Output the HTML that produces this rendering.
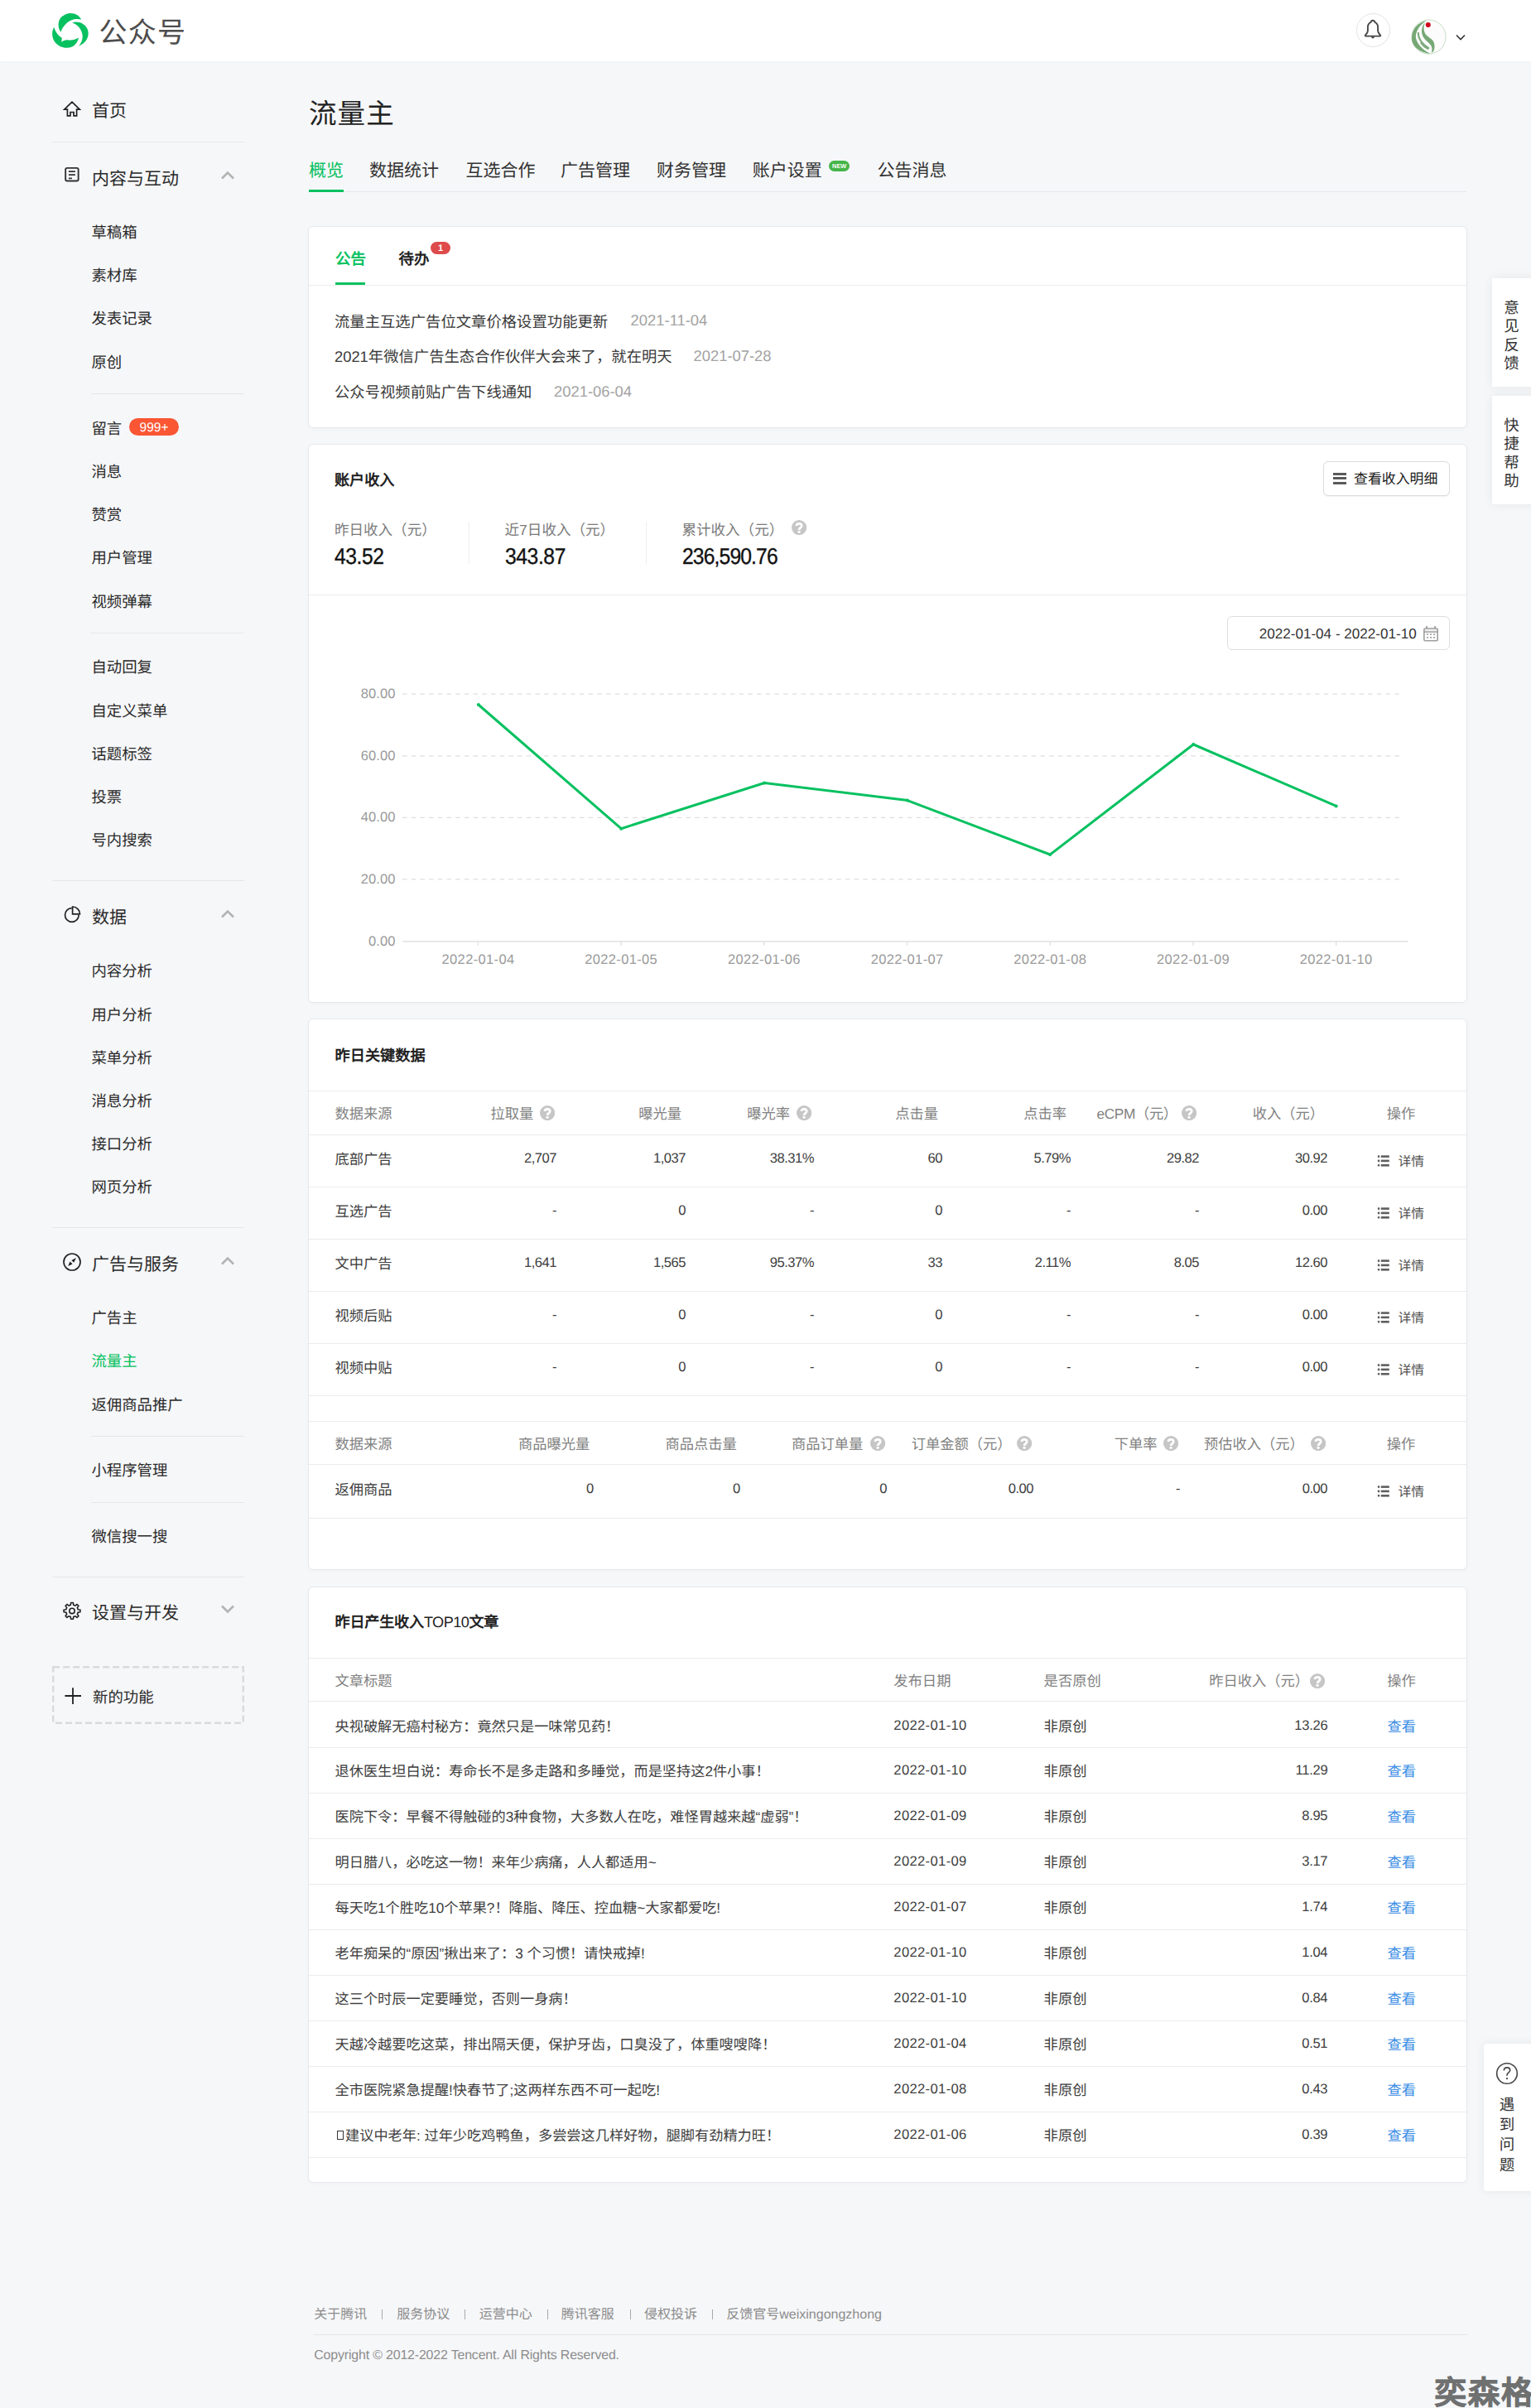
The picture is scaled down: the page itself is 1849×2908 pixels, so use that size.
<!DOCTYPE html>
<html lang="zh-CN"><head><meta charset="utf-8"><title>公众号</title>
<style>
html,body{margin:0;padding:0;}
body{width:1849px;height:2908px;position:relative;overflow:hidden;background:#f6f7f9;font-family:"Liberation Sans",sans-serif;}
.t{position:absolute;white-space:nowrap;text-rendering:geometricPrecision;}
.b{position:absolute;}
</style></head><body>
<div class="b" style="left:0.00px;top:0.00px;width:1849.00px;height:74.00px;background:#fff;box-shadow:0 1px 3px rgba(0,0,0,0.025)"></div><svg class="b" style="left:58px;top:12px" width="54" height="50" viewBox="58 12 54 50"><g fill="#07c160">
<path d="M73.5,38.8 C69,33 69,22 78,18 C86,13.5 95,17 98.2,23.6 C92,22 84,24 80,28.5 C76.5,32 74.5,35 73.5,38.8 Z"/>
<path d="M87.3,27.2 C94,25 103,28 106,36 C108.5,44 104,52 95,55.7 C99,51 100,47 99.5,42 C98.5,35 94,30 87.3,27.2 Z"/>
<path d="M65.4,32.8 C62,38 62.5,46 66.5,51 C71,57 80,59.5 87,56.5 C91.5,54.5 94,50 95,45.5 C91,48 86,49 82,48.3 C79,47.8 77,48.5 74.2,50.8 C74.5,48.5 75,47 74.6,45.5 C70,43 66.5,38 65.4,32.8 Z"/>
</g></svg><div class="t" style="top:23.02px;font-size:34px;line-height:34px;color:#4d4d4d;letter-spacing:1.3px;left:119.50px;">公众号</div><div class="b" style="left:1637.50px;top:16.30px;width:41.00px;height:41.00px;border:1px solid #e3e3e3;border-radius:50%;box-sizing:border-box;background:#fff"></div><svg class="b" style="left:1642px;top:20px" width="32" height="32" viewBox="0 0 32 32"><path d="M16,4.8 C14.6,4.8 13.8,5.8 13.5,6.9 C11.3,7.9 9.9,9.8 9.9,12.8 L9.9,17.2 C9.9,19.4 8.4,21 6.9,22.7 C6.5,23.2 6.8,23.6 7.4,23.6 L24.6,23.6 C25.2,23.6 25.5,23.2 25.1,22.7 C23.6,21 22.1,19.4 22.1,17.2 L22.1,12.8 C22.1,9.8 20.7,7.9 18.5,6.9 C18.2,5.8 17.4,4.8 16,4.8 Z" fill="none" stroke="#474747" stroke-width="1.9" stroke-linejoin="round"/><path d="M14,24.2 L18,24.2 C18,25.6 17,26.4 16,26.4 C15,26.4 14,25.6 14,24.2 Z" fill="#474747"/></svg><svg class="b" style="left:1700px;top:20px" width="50" height="50" viewBox="0 0 50 50"><circle cx="25.5" cy="24.6" r="20.6" fill="#fbfcfb" stroke="#b9d6b9" stroke-width="0.8"/>
<path d="M22.9,4.9 C12,7 5,15 5,26 C5,36 15,44 27.8,44.8 C21,42 12,35 10,26 C9,19 14,10 22.9,4.9 Z" fill="#76a876"/>
<path d="M20.9,7.5 C19.5,11 19,15 20.5,19 C22,23 26,25 29,27.5 C32,30 33.5,35 32,40 C31.5,42 30,43.5 28.8,43.8 C29.5,41 30,38.5 28.5,35.5 C27,32.5 23,30 20.5,27 C17.5,23.5 16.5,19 17.2,15 C17.8,12 18.8,9.5 20.9,7.5 Z" fill="#76a876"/>
<path d="M12.8,19 C12.5,27 17,33 26,38.5" fill="none" stroke="#7aa87a" stroke-width="1.9"/>
<path d="M15.5,31.5 C18,35 21,37.5 25,39.5" fill="none" stroke="#7aa87a" stroke-width="1.4"/>
<circle cx="24.8" cy="10" r="3" fill="#d0021b"/></svg><svg class="b" style="left:1757px;top:40px" width="14" height="10" viewBox="0 0 14 10"><path d="M2,2.5 L7,7.5 L12,2.5" fill="none" stroke="#333" stroke-width="1.6"/></svg><svg class="b" style="left:74px;top:119px" width="26" height="26" viewBox="0 0 26 26"><path d="M13,4.1 L3.7,13.2 L7.4,13.2 L7.4,20.9 L10.95,20.9 L10.95,16.5 L15.05,16.5 L15.05,20.9 L18.6,20.9 L18.6,13.2 L22.3,13.2 Z" fill="none" stroke="#222" stroke-width="1.7" stroke-linejoin="miter"/></svg><div class="t" style="top:124.38px;font-size:21px;line-height:21px;color:#2a2a2a;left:111.00px;">首页</div><div class="b" style="left:63.00px;top:171.00px;width:232.00px;height:1.00px;background:#e7e7e7"></div><svg class="b" style="left:74px;top:198px" width="26" height="26" viewBox="0 0 26 26"><rect x="5.15" y="4.85" width="15.5" height="15.6" rx="2" fill="none" stroke="#333" stroke-width="1.9"/><path d="M8.9,9.2 H16.9 M8.9,13.1 H16.9 M8.9,17.4 H12.9" stroke="#333" stroke-width="1.8"/></svg><div class="t" style="top:205.88px;font-size:21px;line-height:21px;color:#2a2a2a;left:111.00px;">内容与互动</div><svg class="b" style="left:265px;top:205px" width="20" height="14" viewBox="0 0 20 14"><path d="M3,10.5 L10,3.5 L17,10.5" fill="none" stroke="#b3b3b3" stroke-width="2.6"/></svg><div class="t" style="top:271.97px;font-size:18.4px;line-height:18.4px;color:#2a2a2a;left:110.40px;">草稿箱</div><div class="t" style="top:323.77px;font-size:18.4px;line-height:18.4px;color:#2a2a2a;left:110.40px;">素材库</div><div class="t" style="top:376.47px;font-size:18.4px;line-height:18.4px;color:#2a2a2a;left:110.40px;">发表记录</div><div class="t" style="top:428.77px;font-size:18.4px;line-height:18.4px;color:#2a2a2a;left:110.40px;">原创</div><div class="b" style="left:110.00px;top:475.00px;width:185.00px;height:1.00px;background:#e7e7e7"></div><div class="t" style="top:508.87px;font-size:18.4px;line-height:18.4px;color:#2a2a2a;left:110.40px;">留言</div><div class="b" style="left:155.80px;top:505.30px;width:60.40px;height:20.80px;background:#fa5634;border-radius:11px"></div><div class="t" style="top:509.13px;font-size:15.5px;line-height:15.5px;color:#fff;left:-114.00px;width:600px;text-align:center;">999+</div><div class="t" style="top:560.87px;font-size:18.4px;line-height:18.4px;color:#2a2a2a;left:110.40px;">消息</div><div class="t" style="top:612.97px;font-size:18.4px;line-height:18.4px;color:#2a2a2a;left:110.40px;">赞赏</div><div class="t" style="top:664.97px;font-size:18.4px;line-height:18.4px;color:#2a2a2a;left:110.40px;">用户管理</div><div class="t" style="top:718.27px;font-size:18.4px;line-height:18.4px;color:#2a2a2a;left:110.40px;">视频弹幕</div><div class="b" style="left:110.00px;top:764.00px;width:185.00px;height:1.00px;background:#e7e7e7"></div><div class="t" style="top:796.97px;font-size:18.4px;line-height:18.4px;color:#2a2a2a;left:110.40px;">自动回复</div><div class="t" style="top:849.77px;font-size:18.4px;line-height:18.4px;color:#2a2a2a;left:110.40px;">自定义菜单</div><div class="t" style="top:902.27px;font-size:18.4px;line-height:18.4px;color:#2a2a2a;left:110.40px;">话题标签</div><div class="t" style="top:954.07px;font-size:18.4px;line-height:18.4px;color:#2a2a2a;left:110.40px;">投票</div><div class="t" style="top:1005.97px;font-size:18.4px;line-height:18.4px;color:#2a2a2a;left:110.40px;">号内搜索</div><div class="b" style="left:63.00px;top:1063.00px;width:232.00px;height:1.00px;background:#e7e7e7"></div><svg class="b" style="left:74px;top:1092px" width="26" height="26" viewBox="0 0 26 26"><path d="M12.8,4.7 A8.3,8.3 0 1 0 21.1,13" fill="none" stroke="#222" stroke-width="1.7"/><path d="M13.6,3.0 L13.6,11.9 L22.5,11.9 A8.9,8.9 0 0 0 13.6,3.0 Z" fill="none" stroke="#222" stroke-width="1.7" stroke-linejoin="miter"/></svg><div class="t" style="top:1098.18px;font-size:21px;line-height:21px;color:#2a2a2a;left:111.00px;">数据</div><svg class="b" style="left:265px;top:1097px" width="20" height="14" viewBox="0 0 20 14"><path d="M3,10.5 L10,3.5 L17,10.5" fill="none" stroke="#b3b3b3" stroke-width="2.6"/></svg><div class="t" style="top:1164.27px;font-size:18.4px;line-height:18.4px;color:#2a2a2a;left:110.40px;">内容分析</div><div class="t" style="top:1216.67px;font-size:18.4px;line-height:18.4px;color:#2a2a2a;left:110.40px;">用户分析</div><div class="t" style="top:1269.27px;font-size:18.4px;line-height:18.4px;color:#2a2a2a;left:110.40px;">菜单分析</div><div class="t" style="top:1320.67px;font-size:18.4px;line-height:18.4px;color:#2a2a2a;left:110.40px;">消息分析</div><div class="t" style="top:1372.87px;font-size:18.4px;line-height:18.4px;color:#2a2a2a;left:110.40px;">接口分析</div><div class="t" style="top:1424.87px;font-size:18.4px;line-height:18.4px;color:#2a2a2a;left:110.40px;">网页分析</div><div class="b" style="left:63.00px;top:1482.00px;width:232.00px;height:1.00px;background:#e7e7e7"></div><svg class="b" style="left:74px;top:1511px" width="26" height="26" viewBox="0 0 26 26"><circle cx="13" cy="13" r="10" fill="none" stroke="#222" stroke-width="1.7"/><path d="M18,8.1 L15.2,13.8 L12.3,10.9 Z M8.2,17.9 L10.5,12.4 L13.6,15.4 Z" fill="#222"/></svg><div class="t" style="top:1517.18px;font-size:21px;line-height:21px;color:#2a2a2a;left:111.00px;">广告与服务</div><svg class="b" style="left:265px;top:1515.5px" width="20" height="14" viewBox="0 0 20 14"><path d="M3,10.5 L10,3.5 L17,10.5" fill="none" stroke="#b3b3b3" stroke-width="2.6"/></svg><div class="t" style="top:1583.07px;font-size:18.4px;line-height:18.4px;color:#2a2a2a;left:110.40px;">广告主</div><div class="t" style="top:1634.87px;font-size:18.4px;line-height:18.4px;color:#07c160;left:110.40px;">流量主</div><div class="t" style="top:1687.77px;font-size:18.4px;line-height:18.4px;color:#2a2a2a;left:110.40px;">返佣商品推广</div><div class="b" style="left:110.00px;top:1734.00px;width:185.00px;height:1.00px;background:#e7e7e7"></div><div class="t" style="top:1766.57px;font-size:18.4px;line-height:18.4px;color:#2a2a2a;left:110.40px;">小程序管理</div><div class="b" style="left:110.00px;top:1814.00px;width:185.00px;height:1.00px;background:#e7e7e7"></div><div class="t" style="top:1847.27px;font-size:18.4px;line-height:18.4px;color:#2a2a2a;left:110.40px;">微信搜一搜</div><div class="b" style="left:63.00px;top:1904.00px;width:232.00px;height:1.00px;background:#e7e7e7"></div><svg class="b" style="left:74px;top:1932px" width="26" height="26" viewBox="0 0 26 26"><path d="M11.27,6.20 L11.67,3.49 L14.33,3.49 L14.73,6.20 L16.87,7.09 L19.07,5.45 L20.95,7.33 L19.31,9.53 L20.20,11.67 L22.91,12.07 L22.91,14.73 L20.20,15.13 L19.31,17.27 L20.95,19.47 L19.07,21.35 L16.87,19.71 L14.73,20.60 L14.33,23.31 L11.67,23.31 L11.27,20.60 L9.13,19.71 L6.93,21.35 L5.05,19.47 L6.69,17.27 L5.80,15.13 L3.09,14.73 L3.09,12.07 L5.80,11.67 L6.69,9.53 L5.05,7.33 L6.93,5.45 L9.13,7.09 Z" fill="none" stroke="#222" stroke-width="1.6" stroke-linejoin="round"/><circle cx="13" cy="13.4" r="3.2" fill="none" stroke="#222" stroke-width="1.6"/></svg><div class="t" style="top:1938.18px;font-size:21px;line-height:21px;color:#2a2a2a;left:111.00px;">设置与开发</div><svg class="b" style="left:265px;top:1936px" width="20" height="14" viewBox="0 0 20 14"><path d="M3,3.5 L10,10.5 L17,3.5" fill="none" stroke="#b3b3b3" stroke-width="2.6"/></svg><svg class="b" style="left:63px;top:2012px" width="232" height="70" viewBox="0 0 232 70"><rect x="1.2" y="1.2" width="229.6" height="67.6" fill="none" stroke="#dadada" stroke-width="2.4" stroke-dasharray="8,4"/></svg><svg class="b" style="left:76px;top:2036px" width="24" height="24" viewBox="0 0 24 24"><path d="M12,2.3 V21.9 M2.4,12 H22" stroke="#222" stroke-width="1.8"/></svg><div class="t" style="top:2040.87px;font-size:18.4px;line-height:18.4px;color:#2a2a2a;left:112.00px;">新的功能</div><div class="t" style="top:122.09px;font-size:33.6px;line-height:33.6px;color:#222;letter-spacing:1px;left:373.00px;">流量主</div><div class="t" style="top:195.98px;font-size:21px;line-height:21px;color:#07c160;left:373.00px;">概览</div><div class="t" style="top:195.98px;font-size:21px;line-height:21px;color:#333;left:446.00px;">数据统计</div><div class="t" style="top:195.98px;font-size:21px;line-height:21px;color:#333;left:562.50px;">互选合作</div><div class="t" style="top:195.98px;font-size:21px;line-height:21px;color:#333;left:677.00px;">广告管理</div><div class="t" style="top:195.98px;font-size:21px;line-height:21px;color:#333;left:793.00px;">财务管理</div><div class="t" style="top:195.98px;font-size:21px;line-height:21px;color:#333;left:908.70px;">账户设置</div><div class="t" style="top:195.98px;font-size:21px;line-height:21px;color:#333;left:1059.50px;">公告消息</div><div class="b" style="left:373.00px;top:231.00px;width:1398.00px;height:1.00px;background:#e4e6e9"></div><div class="b" style="left:373.00px;top:228.50px;width:42.00px;height:3.50px;background:#07c160"></div><div class="b" style="left:1001.40px;top:194.00px;width:24.60px;height:13.00px;background:#45b549;border-radius:7px"></div><div class="t" style="top:197.14px;font-size:7.4px;line-height:7.4px;color:#fff;font-weight:700;left:713.70px;width:600px;text-align:center;">NEW</div><div class="b" style="left:372.00px;top:273.00px;width:1400.00px;height:244.00px;background:#fff;border:1px solid #e6e8eb;border-radius:6px;box-sizing:border-box;box-shadow:0 2px 5px rgba(0,0,0,0.025)"></div><div class="t" style="top:304.47px;font-size:18.4px;line-height:18.4px;color:#07c160;font-weight:700;left:405.00px;">公告</div><div class="t" style="top:304.47px;font-size:18.4px;line-height:18.4px;color:#222;font-weight:700;left:481.50px;">待办</div><div class="b" style="left:520.00px;top:292.00px;width:24.00px;height:15.00px;background:#de4b4b;border-radius:8px"></div><div class="t" style="top:295.36px;font-size:11px;line-height:11px;color:#fff;font-weight:700;left:232.00px;width:600px;text-align:center;">1</div><div class="b" style="left:373.00px;top:344.00px;width:1398.00px;height:1.00px;background:#ececec"></div><div class="b" style="left:405.00px;top:340.80px;width:36.00px;height:3.50px;background:#07c160"></div><div class="t" style="top:379.79px;font-size:18.35px;line-height:18.35px;color:#3a3a3a;left:404.00px;">流量主互选广告位文章价格设置功能更新</div><div class="t" style="top:378.39px;font-size:18.4px;line-height:18.4px;color:#a3a3a3;left:761.60px;">2021-11-04</div><div class="t" style="top:422.39px;font-size:18.35px;line-height:18.35px;color:#3a3a3a;left:404.00px;">2021年微信广告生态合作伙伴大会来了，就在明天</div><div class="t" style="top:420.99px;font-size:18.4px;line-height:18.4px;color:#a3a3a3;left:837.50px;">2021-07-28</div><div class="t" style="top:464.99px;font-size:18.35px;line-height:18.35px;color:#3a3a3a;left:404.00px;">公众号视频前贴广告下线通知</div><div class="t" style="top:463.59px;font-size:18.4px;line-height:18.4px;color:#a3a3a3;left:669.00px;">2021-06-04</div><div class="b" style="left:372.00px;top:536.00px;width:1400.00px;height:675.00px;background:#fff;border:1px solid #e6e8eb;border-radius:6px;box-sizing:border-box;box-shadow:0 2px 5px rgba(0,0,0,0.025)"></div><div class="t" style="top:571.40px;font-size:18.1px;line-height:18.1px;color:#222;font-weight:700;left:404.00px;">账户收入</div><div class="b" style="left:1597.50px;top:557.30px;width:153.20px;height:41.30px;background:#fff;border:1px solid #dcdcdc;border-radius:6px;box-sizing:border-box;box-shadow:0 1px 2px rgba(0,0,0,0.06)"></div><div class="b" style="left:1610.00px;top:571.05px;width:16.00px;height:2.50px;background:#5a5a5a"></div><div class="b" style="left:1610.00px;top:576.45px;width:16.00px;height:2.50px;background:#5a5a5a"></div><div class="b" style="left:1610.00px;top:582.15px;width:16.00px;height:2.50px;background:#5a5a5a"></div><div class="t" style="top:570.50px;font-size:16.9px;line-height:16.9px;color:#222;left:1635.00px;">查看收入明细</div><div class="t" style="top:631.63px;font-size:17.55px;line-height:17.55px;color:#7b7b7b;left:404.00px;">昨日收入（元）</div><div class="t" style="top:657.94px;font-size:27.4px;line-height:27.4px;color:#111;letter-spacing:-0.45px;left:404.00px;-webkit-text-stroke:0.35px #111;transform:scaleX(0.9);transform-origin:0 50%;">43.52</div><div class="t" style="top:631.63px;font-size:17.55px;line-height:17.55px;color:#7b7b7b;left:609.60px;">近7日收入（元）</div><div class="t" style="top:657.94px;font-size:27.4px;line-height:27.4px;color:#111;letter-spacing:-0.45px;left:609.60px;-webkit-text-stroke:0.35px #111;transform:scaleX(0.9);transform-origin:0 50%;">343.87</div><div class="t" style="top:631.63px;font-size:17.55px;line-height:17.55px;color:#7b7b7b;left:823.50px;">累计收入（元）</div><div class="t" style="top:657.94px;font-size:27.4px;line-height:27.4px;color:#111;letter-spacing:-0.95px;left:823.50px;-webkit-text-stroke:0.35px #111;transform:scaleX(0.9);transform-origin:0 50%;">236,590.76</div><div class="b" style="left:566.00px;top:629.60px;width:1.00px;height:51.00px;background:#eeeeee"></div><div class="b" style="left:780.00px;top:629.60px;width:1.00px;height:51.00px;background:#eeeeee"></div><svg class="b" style="left:955.5px;top:628.4px" width="18.2" height="18.2" viewBox="0 0 18.2 18.2"><circle cx="9.1" cy="9.1" r="9.1" fill="#c6c6c6"/><path d="M6.01,6.92 C6.01,3.64 12.19,3.64 12.19,6.92 C12.19,9.46 9.10,9.46 9.10,12.01" fill="none" stroke="#fff" stroke-width="2.82"/><circle cx="9.10" cy="14.38" r="1.64" fill="#fff"/></svg><div class="b" style="left:373.00px;top:718.00px;width:1398.00px;height:1.00px;background:#ececec"></div><div class="b" style="left:1482.30px;top:744.30px;width:268.30px;height:41.00px;background:#fff;border:1px solid #dedede;border-radius:6px;box-sizing:border-box"></div><div class="t" style="top:757.14px;font-size:17.1px;line-height:17.1px;color:#333;left:1520.70px;">2022-01-04 - 2022-01-10</div><svg class="b" style="left:1717px;top:754px" width="22" height="22" viewBox="0 0 22 22"><rect x="3.0" y="6.0" width="15.6" height="2.6" fill="#efefef"/><rect x="2.9" y="5.0" width="16.3" height="14.8" rx="1.2" fill="none" stroke="#9e9e9e" stroke-width="1.6"/><path d="M2.9,9.1 H19.2" stroke="#9e9e9e" stroke-width="1.5"/><path d="M6.0,2.0 V5.2 M16.0,2.0 V5.2" stroke="#9e9e9e" stroke-width="1.7"/><g fill="#9e9e9e"><rect x="6.1" y="11.2" width="1.8" height="1.8"/><rect x="10.1" y="11.2" width="1.8" height="1.8"/><rect x="14.1" y="11.2" width="1.8" height="1.8"/><rect x="6.1" y="15.0" width="1.8" height="1.8"/><rect x="10.1" y="15.0" width="1.8" height="1.8"/><rect x="14.1" y="15.0" width="1.8" height="1.8"/></g></svg><svg class="b" style="left:0;top:0" width="1849" height="1300" viewBox="0 0 1849 1300"><line x1="486" y1="838.1" x2="1695" y2="838.1" stroke="#dedede" stroke-width="1.1" stroke-dasharray="5.5,5.2"/><line x1="486" y1="912.9" x2="1695" y2="912.9" stroke="#dedede" stroke-width="1.1" stroke-dasharray="5.5,5.2"/><line x1="486" y1="987.4" x2="1695" y2="987.4" stroke="#dedede" stroke-width="1.1" stroke-dasharray="5.5,5.2"/><line x1="486" y1="1061.9" x2="1695" y2="1061.9" stroke="#dedede" stroke-width="1.1" stroke-dasharray="5.5,5.2"/><line x1="486" y1="1137" x2="1700.5" y2="1137" stroke="#e0e0e0" stroke-width="1.5"/><line x1="577.5" y1="1137" x2="577.5" y2="1142" stroke="#e0e0e0" stroke-width="1.3"/><line x1="750.2" y1="1137" x2="750.2" y2="1142" stroke="#e0e0e0" stroke-width="1.3"/><line x1="922.9" y1="1137" x2="922.9" y2="1142" stroke="#e0e0e0" stroke-width="1.3"/><line x1="1095.6" y1="1137" x2="1095.6" y2="1142" stroke="#e0e0e0" stroke-width="1.3"/><line x1="1268.3" y1="1137" x2="1268.3" y2="1142" stroke="#e0e0e0" stroke-width="1.3"/><line x1="1441.0" y1="1137" x2="1441.0" y2="1142" stroke="#e0e0e0" stroke-width="1.3"/><line x1="1613.6999999999998" y1="1137" x2="1613.6999999999998" y2="1142" stroke="#e0e0e0" stroke-width="1.3"/><polyline points="577.8,851 750.2,1000.7 923.2,945.5 1095.8,966.6 1268.2,1032 1441.3,899 1613.7,973.4" fill="none" stroke="#07c160" stroke-width="3" stroke-linejoin="round"/><circle cx="577.8" cy="851" r="2" fill="#07c160"/><circle cx="750.2" cy="1000.7" r="2" fill="#07c160"/><circle cx="923.2" cy="945.5" r="2" fill="#07c160"/><circle cx="1095.8" cy="966.6" r="2" fill="#07c160"/><circle cx="1268.2" cy="1032" r="2" fill="#07c160"/><circle cx="1441.3" cy="899" r="2" fill="#07c160"/><circle cx="1613.7" cy="973.4" r="2" fill="#07c160"/></svg><div class="t" style="top:829.93px;font-size:16.5px;line-height:16.5px;color:#9a9a9a;letter-spacing:0.1px;right:1371.50px;text-align:right;">80.00</div><div class="t" style="top:904.73px;font-size:16.5px;line-height:16.5px;color:#9a9a9a;letter-spacing:0.1px;right:1371.50px;text-align:right;">60.00</div><div class="t" style="top:979.23px;font-size:16.5px;line-height:16.5px;color:#9a9a9a;letter-spacing:0.1px;right:1371.50px;text-align:right;">40.00</div><div class="t" style="top:1053.73px;font-size:16.5px;line-height:16.5px;color:#9a9a9a;letter-spacing:0.1px;right:1371.50px;text-align:right;">20.00</div><div class="t" style="top:1128.83px;font-size:16.5px;line-height:16.5px;color:#9a9a9a;letter-spacing:0.1px;right:1371.50px;text-align:right;">0.00</div><div class="t" style="top:1150.93px;font-size:16.5px;line-height:16.5px;color:#9a9a9a;letter-spacing:0.35px;left:277.50px;width:600px;text-align:center;">2022-01-04</div><div class="t" style="top:1150.93px;font-size:16.5px;line-height:16.5px;color:#9a9a9a;letter-spacing:0.35px;left:450.20px;width:600px;text-align:center;">2022-01-05</div><div class="t" style="top:1150.93px;font-size:16.5px;line-height:16.5px;color:#9a9a9a;letter-spacing:0.35px;left:622.90px;width:600px;text-align:center;">2022-01-06</div><div class="t" style="top:1150.93px;font-size:16.5px;line-height:16.5px;color:#9a9a9a;letter-spacing:0.35px;left:795.60px;width:600px;text-align:center;">2022-01-07</div><div class="t" style="top:1150.93px;font-size:16.5px;line-height:16.5px;color:#9a9a9a;letter-spacing:0.35px;left:968.30px;width:600px;text-align:center;">2022-01-08</div><div class="t" style="top:1150.93px;font-size:16.5px;line-height:16.5px;color:#9a9a9a;letter-spacing:0.35px;left:1141.00px;width:600px;text-align:center;">2022-01-09</div><div class="t" style="top:1150.93px;font-size:16.5px;line-height:16.5px;color:#9a9a9a;letter-spacing:0.35px;left:1313.70px;width:600px;text-align:center;">2022-01-10</div><div class="b" style="left:372.00px;top:1230.00px;width:1400.00px;height:666.00px;background:#fff;border:1px solid #e6e8eb;border-radius:6px;box-sizing:border-box;box-shadow:0 2px 5px rgba(0,0,0,0.025)"></div><div class="t" style="top:1265.56px;font-size:18.2px;line-height:18.2px;color:#222;font-weight:700;left:404.50px;">昨日关键数据</div><div class="b" style="left:373.00px;top:1316.50px;width:1398.00px;height:1.00px;background:#ececec"></div><div class="t" style="top:1336.73px;font-size:17.3px;line-height:17.3px;color:#828282;left:404.50px;">数据来源</div><div class="t" style="top:1336.73px;font-size:17.3px;line-height:17.3px;color:#828282;right:1204.70px;text-align:right;">拉取量</div><div class="t" style="top:1336.73px;font-size:17.3px;line-height:17.3px;color:#828282;right:1026.00px;text-align:right;">曝光量</div><div class="t" style="top:1336.73px;font-size:17.3px;line-height:17.3px;color:#828282;right:895.00px;text-align:right;">曝光率</div><div class="t" style="top:1336.73px;font-size:17.3px;line-height:17.3px;color:#828282;right:716.00px;text-align:right;">点击量</div><div class="t" style="top:1336.73px;font-size:17.3px;line-height:17.3px;color:#828282;right:561.00px;text-align:right;">点击率</div><div class="t" style="top:1336.73px;font-size:17.3px;line-height:17.3px;color:#828282;letter-spacing:-0.35px;right:427.20px;text-align:right;">eCPM（元）</div><div class="t" style="top:1336.73px;font-size:17.3px;line-height:17.3px;color:#828282;right:249.90px;text-align:right;">收入（元）</div><svg class="b" style="left:651.8px;top:1335.1000000000001px" width="18.2" height="18.2" viewBox="0 0 18.2 18.2"><circle cx="9.1" cy="9.1" r="9.1" fill="#c6c6c6"/><path d="M6.01,6.92 C6.01,3.64 12.19,3.64 12.19,6.92 C12.19,9.46 9.10,9.46 9.10,12.01" fill="none" stroke="#fff" stroke-width="2.82"/><circle cx="9.10" cy="14.38" r="1.64" fill="#fff"/></svg><svg class="b" style="left:962px;top:1335.1000000000001px" width="18.2" height="18.2" viewBox="0 0 18.2 18.2"><circle cx="9.1" cy="9.1" r="9.1" fill="#c6c6c6"/><path d="M6.01,6.92 C6.01,3.64 12.19,3.64 12.19,6.92 C12.19,9.46 9.10,9.46 9.10,12.01" fill="none" stroke="#fff" stroke-width="2.82"/><circle cx="9.10" cy="14.38" r="1.64" fill="#fff"/></svg><svg class="b" style="left:1426.8px;top:1335.1000000000001px" width="18.2" height="18.2" viewBox="0 0 18.2 18.2"><circle cx="9.1" cy="9.1" r="9.1" fill="#c6c6c6"/><path d="M6.01,6.92 C6.01,3.64 12.19,3.64 12.19,6.92 C12.19,9.46 9.10,9.46 9.10,12.01" fill="none" stroke="#fff" stroke-width="2.82"/><circle cx="9.10" cy="14.38" r="1.64" fill="#fff"/></svg><div class="t" style="top:1336.73px;font-size:17.3px;line-height:17.3px;color:#828282;left:1392.00px;width:600px;text-align:center;">操作</div><div class="b" style="left:373.00px;top:1369.50px;width:1398.00px;height:1.00px;background:#ececec"></div><div class="t" style="top:1392.23px;font-size:17.3px;line-height:17.3px;color:#404040;left:404.50px;">底部广告</div><div class="t" style="top:1391.28px;font-size:16.6px;line-height:16.6px;color:#404040;letter-spacing:-0.5px;right:1177.00px;text-align:right;">2,707</div><div class="t" style="top:1391.28px;font-size:16.6px;line-height:16.6px;color:#404040;letter-spacing:-0.5px;right:1021.00px;text-align:right;">1,037</div><div class="t" style="top:1391.28px;font-size:16.6px;line-height:16.6px;color:#404040;letter-spacing:-0.5px;right:866.00px;text-align:right;">38.31%</div><div class="t" style="top:1391.28px;font-size:16.6px;line-height:16.6px;color:#404040;letter-spacing:-0.5px;right:711.00px;text-align:right;">60</div><div class="t" style="top:1391.28px;font-size:16.6px;line-height:16.6px;color:#404040;letter-spacing:-0.5px;right:556.00px;text-align:right;">5.79%</div><div class="t" style="top:1391.28px;font-size:16.6px;line-height:16.6px;color:#404040;letter-spacing:-0.5px;right:401.00px;text-align:right;">29.82</div><div class="t" style="top:1391.28px;font-size:16.6px;line-height:16.6px;color:#404040;letter-spacing:-0.5px;right:246.00px;text-align:right;">30.92</div><svg class="b" style="left:1662.2px;top:1393.1px" width="18" height="18" viewBox="0 0 18 18"><g fill="#5f5f5f"><rect x="1.8" y="2.3" width="2.5" height="2.6" rx="0.8"/><rect x="1.8" y="7.6" width="2.5" height="2.6" rx="0.8"/><rect x="1.8" y="13" width="2.5" height="2.6" rx="0.8"/><rect x="5.8" y="2.3" width="10" height="2.6"/><rect x="5.8" y="7.6" width="10" height="2.6"/><rect x="5.8" y="13" width="10" height="2.6"/></g></svg><div class="t" style="top:1396.36px;font-size:15.8px;line-height:15.8px;color:#555;left:1688.50px;">详情</div><div class="b" style="left:373.00px;top:1432.50px;width:1398.00px;height:1.00px;background:#ececec"></div><div class="t" style="top:1455.23px;font-size:17.3px;line-height:17.3px;color:#404040;left:404.50px;">互选广告</div><div class="t" style="top:1454.28px;font-size:16.6px;line-height:16.6px;color:#404040;letter-spacing:-0.5px;right:1177.00px;text-align:right;">-</div><div class="t" style="top:1454.28px;font-size:16.6px;line-height:16.6px;color:#404040;letter-spacing:-0.5px;right:1021.00px;text-align:right;">0</div><div class="t" style="top:1454.28px;font-size:16.6px;line-height:16.6px;color:#404040;letter-spacing:-0.5px;right:866.00px;text-align:right;">-</div><div class="t" style="top:1454.28px;font-size:16.6px;line-height:16.6px;color:#404040;letter-spacing:-0.5px;right:711.00px;text-align:right;">0</div><div class="t" style="top:1454.28px;font-size:16.6px;line-height:16.6px;color:#404040;letter-spacing:-0.5px;right:556.00px;text-align:right;">-</div><div class="t" style="top:1454.28px;font-size:16.6px;line-height:16.6px;color:#404040;letter-spacing:-0.5px;right:401.00px;text-align:right;">-</div><div class="t" style="top:1454.28px;font-size:16.6px;line-height:16.6px;color:#404040;letter-spacing:-0.5px;right:246.00px;text-align:right;">0.00</div><svg class="b" style="left:1662.2px;top:1456.1px" width="18" height="18" viewBox="0 0 18 18"><g fill="#5f5f5f"><rect x="1.8" y="2.3" width="2.5" height="2.6" rx="0.8"/><rect x="1.8" y="7.6" width="2.5" height="2.6" rx="0.8"/><rect x="1.8" y="13" width="2.5" height="2.6" rx="0.8"/><rect x="5.8" y="2.3" width="10" height="2.6"/><rect x="5.8" y="7.6" width="10" height="2.6"/><rect x="5.8" y="13" width="10" height="2.6"/></g></svg><div class="t" style="top:1459.36px;font-size:15.8px;line-height:15.8px;color:#555;left:1688.50px;">详情</div><div class="b" style="left:373.00px;top:1495.50px;width:1398.00px;height:1.00px;background:#ececec"></div><div class="t" style="top:1518.23px;font-size:17.3px;line-height:17.3px;color:#404040;left:404.50px;">文中广告</div><div class="t" style="top:1517.28px;font-size:16.6px;line-height:16.6px;color:#404040;letter-spacing:-0.5px;right:1177.00px;text-align:right;">1,641</div><div class="t" style="top:1517.28px;font-size:16.6px;line-height:16.6px;color:#404040;letter-spacing:-0.5px;right:1021.00px;text-align:right;">1,565</div><div class="t" style="top:1517.28px;font-size:16.6px;line-height:16.6px;color:#404040;letter-spacing:-0.5px;right:866.00px;text-align:right;">95.37%</div><div class="t" style="top:1517.28px;font-size:16.6px;line-height:16.6px;color:#404040;letter-spacing:-0.5px;right:711.00px;text-align:right;">33</div><div class="t" style="top:1517.28px;font-size:16.6px;line-height:16.6px;color:#404040;letter-spacing:-0.5px;right:556.00px;text-align:right;">2.11%</div><div class="t" style="top:1517.28px;font-size:16.6px;line-height:16.6px;color:#404040;letter-spacing:-0.5px;right:401.00px;text-align:right;">8.05</div><div class="t" style="top:1517.28px;font-size:16.6px;line-height:16.6px;color:#404040;letter-spacing:-0.5px;right:246.00px;text-align:right;">12.60</div><svg class="b" style="left:1662.2px;top:1519.1px" width="18" height="18" viewBox="0 0 18 18"><g fill="#5f5f5f"><rect x="1.8" y="2.3" width="2.5" height="2.6" rx="0.8"/><rect x="1.8" y="7.6" width="2.5" height="2.6" rx="0.8"/><rect x="1.8" y="13" width="2.5" height="2.6" rx="0.8"/><rect x="5.8" y="2.3" width="10" height="2.6"/><rect x="5.8" y="7.6" width="10" height="2.6"/><rect x="5.8" y="13" width="10" height="2.6"/></g></svg><div class="t" style="top:1522.36px;font-size:15.8px;line-height:15.8px;color:#555;left:1688.50px;">详情</div><div class="b" style="left:373.00px;top:1558.50px;width:1398.00px;height:1.00px;background:#ececec"></div><div class="t" style="top:1581.23px;font-size:17.3px;line-height:17.3px;color:#404040;left:404.50px;">视频后贴</div><div class="t" style="top:1580.28px;font-size:16.6px;line-height:16.6px;color:#404040;letter-spacing:-0.5px;right:1177.00px;text-align:right;">-</div><div class="t" style="top:1580.28px;font-size:16.6px;line-height:16.6px;color:#404040;letter-spacing:-0.5px;right:1021.00px;text-align:right;">0</div><div class="t" style="top:1580.28px;font-size:16.6px;line-height:16.6px;color:#404040;letter-spacing:-0.5px;right:866.00px;text-align:right;">-</div><div class="t" style="top:1580.28px;font-size:16.6px;line-height:16.6px;color:#404040;letter-spacing:-0.5px;right:711.00px;text-align:right;">0</div><div class="t" style="top:1580.28px;font-size:16.6px;line-height:16.6px;color:#404040;letter-spacing:-0.5px;right:556.00px;text-align:right;">-</div><div class="t" style="top:1580.28px;font-size:16.6px;line-height:16.6px;color:#404040;letter-spacing:-0.5px;right:401.00px;text-align:right;">-</div><div class="t" style="top:1580.28px;font-size:16.6px;line-height:16.6px;color:#404040;letter-spacing:-0.5px;right:246.00px;text-align:right;">0.00</div><svg class="b" style="left:1662.2px;top:1582.1px" width="18" height="18" viewBox="0 0 18 18"><g fill="#5f5f5f"><rect x="1.8" y="2.3" width="2.5" height="2.6" rx="0.8"/><rect x="1.8" y="7.6" width="2.5" height="2.6" rx="0.8"/><rect x="1.8" y="13" width="2.5" height="2.6" rx="0.8"/><rect x="5.8" y="2.3" width="10" height="2.6"/><rect x="5.8" y="7.6" width="10" height="2.6"/><rect x="5.8" y="13" width="10" height="2.6"/></g></svg><div class="t" style="top:1585.36px;font-size:15.8px;line-height:15.8px;color:#555;left:1688.50px;">详情</div><div class="b" style="left:373.00px;top:1621.50px;width:1398.00px;height:1.00px;background:#ececec"></div><div class="t" style="top:1644.23px;font-size:17.3px;line-height:17.3px;color:#404040;left:404.50px;">视频中贴</div><div class="t" style="top:1643.28px;font-size:16.6px;line-height:16.6px;color:#404040;letter-spacing:-0.5px;right:1177.00px;text-align:right;">-</div><div class="t" style="top:1643.28px;font-size:16.6px;line-height:16.6px;color:#404040;letter-spacing:-0.5px;right:1021.00px;text-align:right;">0</div><div class="t" style="top:1643.28px;font-size:16.6px;line-height:16.6px;color:#404040;letter-spacing:-0.5px;right:866.00px;text-align:right;">-</div><div class="t" style="top:1643.28px;font-size:16.6px;line-height:16.6px;color:#404040;letter-spacing:-0.5px;right:711.00px;text-align:right;">0</div><div class="t" style="top:1643.28px;font-size:16.6px;line-height:16.6px;color:#404040;letter-spacing:-0.5px;right:556.00px;text-align:right;">-</div><div class="t" style="top:1643.28px;font-size:16.6px;line-height:16.6px;color:#404040;letter-spacing:-0.5px;right:401.00px;text-align:right;">-</div><div class="t" style="top:1643.28px;font-size:16.6px;line-height:16.6px;color:#404040;letter-spacing:-0.5px;right:246.00px;text-align:right;">0.00</div><svg class="b" style="left:1662.2px;top:1645.1px" width="18" height="18" viewBox="0 0 18 18"><g fill="#5f5f5f"><rect x="1.8" y="2.3" width="2.5" height="2.6" rx="0.8"/><rect x="1.8" y="7.6" width="2.5" height="2.6" rx="0.8"/><rect x="1.8" y="13" width="2.5" height="2.6" rx="0.8"/><rect x="5.8" y="2.3" width="10" height="2.6"/><rect x="5.8" y="7.6" width="10" height="2.6"/><rect x="5.8" y="13" width="10" height="2.6"/></g></svg><div class="t" style="top:1648.36px;font-size:15.8px;line-height:15.8px;color:#555;left:1688.50px;">详情</div><div class="b" style="left:373.00px;top:1684.50px;width:1398.00px;height:1.00px;background:#ececec"></div><div class="b" style="left:373.00px;top:1716.00px;width:1398.00px;height:1.00px;background:#ececec"></div><div class="t" style="top:1735.73px;font-size:17.3px;line-height:17.3px;color:#828282;left:404.50px;">数据来源</div><div class="t" style="top:1735.73px;font-size:17.3px;line-height:17.3px;color:#828282;right:1136.60px;text-align:right;">商品曝光量</div><div class="t" style="top:1735.73px;font-size:17.3px;line-height:17.3px;color:#828282;right:959.20px;text-align:right;">商品点击量</div><div class="t" style="top:1735.73px;font-size:17.3px;line-height:17.3px;color:#828282;right:806.60px;text-align:right;">商品订单量</div><div class="t" style="top:1735.73px;font-size:17.3px;line-height:17.3px;color:#828282;right:627.40px;text-align:right;">订单金额（元）</div><div class="t" style="top:1735.73px;font-size:17.3px;line-height:17.3px;color:#828282;right:451.50px;text-align:right;">下单率</div><div class="t" style="top:1735.73px;font-size:17.3px;line-height:17.3px;color:#828282;right:274.10px;text-align:right;">预估收入（元）</div><svg class="b" style="left:1051px;top:1734.1000000000001px" width="18.2" height="18.2" viewBox="0 0 18.2 18.2"><circle cx="9.1" cy="9.1" r="9.1" fill="#c6c6c6"/><path d="M6.01,6.92 C6.01,3.64 12.19,3.64 12.19,6.92 C12.19,9.46 9.10,9.46 9.10,12.01" fill="none" stroke="#fff" stroke-width="2.82"/><circle cx="9.10" cy="14.38" r="1.64" fill="#fff"/></svg><svg class="b" style="left:1228px;top:1734.1000000000001px" width="18.2" height="18.2" viewBox="0 0 18.2 18.2"><circle cx="9.1" cy="9.1" r="9.1" fill="#c6c6c6"/><path d="M6.01,6.92 C6.01,3.64 12.19,3.64 12.19,6.92 C12.19,9.46 9.10,9.46 9.10,12.01" fill="none" stroke="#fff" stroke-width="2.82"/><circle cx="9.10" cy="14.38" r="1.64" fill="#fff"/></svg><svg class="b" style="left:1404.8px;top:1734.1000000000001px" width="18.2" height="18.2" viewBox="0 0 18.2 18.2"><circle cx="9.1" cy="9.1" r="9.1" fill="#c6c6c6"/><path d="M6.01,6.92 C6.01,3.64 12.19,3.64 12.19,6.92 C12.19,9.46 9.10,9.46 9.10,12.01" fill="none" stroke="#fff" stroke-width="2.82"/><circle cx="9.10" cy="14.38" r="1.64" fill="#fff"/></svg><svg class="b" style="left:1582.9px;top:1734.1000000000001px" width="18.2" height="18.2" viewBox="0 0 18.2 18.2"><circle cx="9.1" cy="9.1" r="9.1" fill="#c6c6c6"/><path d="M6.01,6.92 C6.01,3.64 12.19,3.64 12.19,6.92 C12.19,9.46 9.10,9.46 9.10,12.01" fill="none" stroke="#fff" stroke-width="2.82"/><circle cx="9.10" cy="14.38" r="1.64" fill="#fff"/></svg><div class="t" style="top:1735.73px;font-size:17.3px;line-height:17.3px;color:#828282;left:1392.00px;width:600px;text-align:center;">操作</div><div class="b" style="left:373.00px;top:1768.00px;width:1398.00px;height:1.00px;background:#ececec"></div><div class="t" style="top:1791.03px;font-size:17.3px;line-height:17.3px;color:#404040;left:404.50px;">返佣商品</div><div class="t" style="top:1790.08px;font-size:16.6px;line-height:16.6px;color:#404040;letter-spacing:-0.5px;right:1132.30px;text-align:right;">0</div><div class="t" style="top:1790.08px;font-size:16.6px;line-height:16.6px;color:#404040;letter-spacing:-0.5px;right:955.40px;text-align:right;">0</div><div class="t" style="top:1790.08px;font-size:16.6px;line-height:16.6px;color:#404040;letter-spacing:-0.5px;right:778.00px;text-align:right;">0</div><div class="t" style="top:1790.08px;font-size:16.6px;line-height:16.6px;color:#404040;letter-spacing:-0.5px;right:601.00px;text-align:right;">0.00</div><div class="t" style="top:1790.08px;font-size:16.6px;line-height:16.6px;color:#404040;letter-spacing:-0.5px;right:424.00px;text-align:right;">-</div><div class="t" style="top:1790.08px;font-size:16.6px;line-height:16.6px;color:#404040;letter-spacing:-0.5px;right:246.00px;text-align:right;">0.00</div><svg class="b" style="left:1662.2px;top:1791.8999999999999px" width="18" height="18" viewBox="0 0 18 18"><g fill="#5f5f5f"><rect x="1.8" y="2.3" width="2.5" height="2.6" rx="0.8"/><rect x="1.8" y="7.6" width="2.5" height="2.6" rx="0.8"/><rect x="1.8" y="13" width="2.5" height="2.6" rx="0.8"/><rect x="5.8" y="2.3" width="10" height="2.6"/><rect x="5.8" y="7.6" width="10" height="2.6"/><rect x="5.8" y="13" width="10" height="2.6"/></g></svg><div class="t" style="top:1795.16px;font-size:15.8px;line-height:15.8px;color:#555;left:1688.50px;">详情</div><div class="b" style="left:373.00px;top:1833.00px;width:1398.00px;height:1.00px;background:#ececec"></div><div class="b" style="left:372.00px;top:1916.00px;width:1400.00px;height:720.00px;background:#fff;border:1px solid #e6e8eb;border-radius:6px;box-sizing:border-box;box-shadow:0 2px 5px rgba(0,0,0,0.025)"></div><div class="t" style="top:1950.10px;font-size:18.1px;line-height:18.1px;color:#222;font-weight:700;letter-spacing:-0.2px;left:404.50px;">昨日产生收入<span style="font-weight:400;letter-spacing:-0.5px">TOP10</span>文章</div><div class="b" style="left:373.00px;top:2002.00px;width:1398.00px;height:1.00px;background:#ececec"></div><div class="t" style="top:2022.23px;font-size:17.3px;line-height:17.3px;color:#828282;left:404.50px;">文章标题</div><div class="t" style="top:2022.23px;font-size:17.3px;line-height:17.3px;color:#828282;left:1079.30px;">发布日期</div><div class="t" style="top:2022.23px;font-size:17.3px;line-height:17.3px;color:#828282;left:1260.60px;">是否原创</div><div class="t" style="top:2022.23px;font-size:17.3px;line-height:17.3px;color:#828282;right:267.90px;text-align:right;">昨日收入（元）</div><svg class="b" style="left:1582px;top:2020.6000000000001px" width="18.2" height="18.2" viewBox="0 0 18.2 18.2"><circle cx="9.1" cy="9.1" r="9.1" fill="#c6c6c6"/><path d="M6.01,6.92 C6.01,3.64 12.19,3.64 12.19,6.92 C12.19,9.46 9.10,9.46 9.10,12.01" fill="none" stroke="#fff" stroke-width="2.82"/><circle cx="9.10" cy="14.38" r="1.64" fill="#fff"/></svg><div class="t" style="top:2022.23px;font-size:17.3px;line-height:17.3px;color:#828282;left:1392.50px;width:600px;text-align:center;">操作</div><div class="b" style="left:373.00px;top:2054.00px;width:1398.00px;height:1.00px;background:#ececec"></div><div class="t" style="top:2076.98px;font-size:17.2px;line-height:17.2px;color:#404040;left:404.50px;">央视破解无癌村秘方：竟然只是一味常见药！</div><div class="t" style="top:2075.98px;font-size:16.6px;line-height:16.6px;color:#404040;letter-spacing:0.35px;left:1079.30px;">2022-01-10</div><div class="t" style="top:2076.93px;font-size:17.3px;line-height:17.3px;color:#404040;left:1260.60px;">非原创</div><div class="t" style="top:2075.98px;font-size:16.6px;line-height:16.6px;color:#404040;letter-spacing:-0.3px;right:245.70px;text-align:right;">13.26</div><div class="t" style="top:2076.93px;font-size:17.3px;line-height:17.3px;color:#3b8ee5;left:1675.40px;">查看</div><div class="b" style="left:373.00px;top:2110.30px;width:1398.00px;height:1.00px;background:#ececec"></div><div class="t" style="top:2131.18px;font-size:17.2px;line-height:17.2px;color:#404040;left:404.50px;">退休医生坦白说：寿命长不是多走路和多睡觉，而是坚持这2件小事！</div><div class="t" style="top:2130.18px;font-size:16.6px;line-height:16.6px;color:#404040;letter-spacing:0.35px;left:1079.30px;">2022-01-10</div><div class="t" style="top:2131.13px;font-size:17.3px;line-height:17.3px;color:#404040;left:1260.60px;">非原创</div><div class="t" style="top:2130.18px;font-size:16.6px;line-height:16.6px;color:#404040;letter-spacing:-0.3px;right:245.70px;text-align:right;">11.29</div><div class="t" style="top:2131.13px;font-size:17.3px;line-height:17.3px;color:#3b8ee5;left:1675.40px;">查看</div><div class="b" style="left:373.00px;top:2165.32px;width:1398.00px;height:1.00px;background:#ececec"></div><div class="t" style="top:2186.20px;font-size:17.2px;line-height:17.2px;color:#404040;left:404.50px;">医院下令：早餐不得触碰的3种食物，大多数人在吃，难怪胃越来越“虚弱”！</div><div class="t" style="top:2185.20px;font-size:16.6px;line-height:16.6px;color:#404040;letter-spacing:0.35px;left:1079.30px;">2022-01-09</div><div class="t" style="top:2186.15px;font-size:17.3px;line-height:17.3px;color:#404040;left:1260.60px;">非原创</div><div class="t" style="top:2185.20px;font-size:16.6px;line-height:16.6px;color:#404040;letter-spacing:-0.3px;right:245.70px;text-align:right;">8.95</div><div class="t" style="top:2186.15px;font-size:17.3px;line-height:17.3px;color:#3b8ee5;left:1675.40px;">查看</div><div class="b" style="left:373.00px;top:2220.34px;width:1398.00px;height:1.00px;background:#ececec"></div><div class="t" style="top:2241.22px;font-size:17.2px;line-height:17.2px;color:#404040;left:404.50px;">明日腊八，必吃这一物！来年少病痛，人人都适用~</div><div class="t" style="top:2240.22px;font-size:16.6px;line-height:16.6px;color:#404040;letter-spacing:0.35px;left:1079.30px;">2022-01-09</div><div class="t" style="top:2241.17px;font-size:17.3px;line-height:17.3px;color:#404040;left:1260.60px;">非原创</div><div class="t" style="top:2240.22px;font-size:16.6px;line-height:16.6px;color:#404040;letter-spacing:-0.3px;right:245.70px;text-align:right;">3.17</div><div class="t" style="top:2241.17px;font-size:17.3px;line-height:17.3px;color:#3b8ee5;left:1675.40px;">查看</div><div class="b" style="left:373.00px;top:2275.36px;width:1398.00px;height:1.00px;background:#ececec"></div><div class="t" style="top:2296.24px;font-size:17.2px;line-height:17.2px;color:#404040;left:404.50px;">每天吃1个胜吃10个苹果?！降脂、降压、控血糖~大家都爱吃!</div><div class="t" style="top:2295.24px;font-size:16.6px;line-height:16.6px;color:#404040;letter-spacing:0.35px;left:1079.30px;">2022-01-07</div><div class="t" style="top:2296.19px;font-size:17.3px;line-height:17.3px;color:#404040;left:1260.60px;">非原创</div><div class="t" style="top:2295.24px;font-size:16.6px;line-height:16.6px;color:#404040;letter-spacing:-0.3px;right:245.70px;text-align:right;">1.74</div><div class="t" style="top:2296.19px;font-size:17.3px;line-height:17.3px;color:#3b8ee5;left:1675.40px;">查看</div><div class="b" style="left:373.00px;top:2330.38px;width:1398.00px;height:1.00px;background:#ececec"></div><div class="t" style="top:2351.26px;font-size:17.2px;line-height:17.2px;color:#404040;left:404.50px;">老年痴呆的“原因”揪出来了：3 个习惯！请快戒掉!</div><div class="t" style="top:2350.26px;font-size:16.6px;line-height:16.6px;color:#404040;letter-spacing:0.35px;left:1079.30px;">2022-01-10</div><div class="t" style="top:2351.21px;font-size:17.3px;line-height:17.3px;color:#404040;left:1260.60px;">非原创</div><div class="t" style="top:2350.26px;font-size:16.6px;line-height:16.6px;color:#404040;letter-spacing:-0.3px;right:245.70px;text-align:right;">1.04</div><div class="t" style="top:2351.21px;font-size:17.3px;line-height:17.3px;color:#3b8ee5;left:1675.40px;">查看</div><div class="b" style="left:373.00px;top:2385.40px;width:1398.00px;height:1.00px;background:#ececec"></div><div class="t" style="top:2406.28px;font-size:17.2px;line-height:17.2px;color:#404040;left:404.50px;">这三个时辰一定要睡觉，否则一身病！</div><div class="t" style="top:2405.28px;font-size:16.6px;line-height:16.6px;color:#404040;letter-spacing:0.35px;left:1079.30px;">2022-01-10</div><div class="t" style="top:2406.23px;font-size:17.3px;line-height:17.3px;color:#404040;left:1260.60px;">非原创</div><div class="t" style="top:2405.28px;font-size:16.6px;line-height:16.6px;color:#404040;letter-spacing:-0.3px;right:245.70px;text-align:right;">0.84</div><div class="t" style="top:2406.23px;font-size:17.3px;line-height:17.3px;color:#3b8ee5;left:1675.40px;">查看</div><div class="b" style="left:373.00px;top:2440.42px;width:1398.00px;height:1.00px;background:#ececec"></div><div class="t" style="top:2461.30px;font-size:17.2px;line-height:17.2px;color:#404040;left:404.50px;">天越冷越要吃这菜，排出隔天便，保护牙齿，口臭没了，体重嗖嗖降！</div><div class="t" style="top:2460.30px;font-size:16.6px;line-height:16.6px;color:#404040;letter-spacing:0.35px;left:1079.30px;">2022-01-04</div><div class="t" style="top:2461.25px;font-size:17.3px;line-height:17.3px;color:#404040;left:1260.60px;">非原创</div><div class="t" style="top:2460.30px;font-size:16.6px;line-height:16.6px;color:#404040;letter-spacing:-0.3px;right:245.70px;text-align:right;">0.51</div><div class="t" style="top:2461.25px;font-size:17.3px;line-height:17.3px;color:#3b8ee5;left:1675.40px;">查看</div><div class="b" style="left:373.00px;top:2495.44px;width:1398.00px;height:1.00px;background:#ececec"></div><div class="t" style="top:2516.32px;font-size:17.2px;line-height:17.2px;color:#404040;left:404.50px;">全市医院紧急提醒!快春节了;这两样东西不可一起吃!</div><div class="t" style="top:2515.32px;font-size:16.6px;line-height:16.6px;color:#404040;letter-spacing:0.35px;left:1079.30px;">2022-01-08</div><div class="t" style="top:2516.27px;font-size:17.3px;line-height:17.3px;color:#404040;left:1260.60px;">非原创</div><div class="t" style="top:2515.32px;font-size:16.6px;line-height:16.6px;color:#404040;letter-spacing:-0.3px;right:245.70px;text-align:right;">0.43</div><div class="t" style="top:2516.27px;font-size:17.3px;line-height:17.3px;color:#3b8ee5;left:1675.40px;">查看</div><div class="b" style="left:373.00px;top:2550.46px;width:1398.00px;height:1.00px;background:#ececec"></div><div class="b" style="left:406.80px;top:2573.16px;width:8.60px;height:11.00px;border:1.3px solid #353535;box-sizing:border-box"></div><div class="t" style="top:2571.34px;font-size:17.2px;line-height:17.2px;color:#404040;left:417.00px;">建议中老年: 过年少吃鸡鸭鱼，多尝尝这几样好物，腿脚有劲精力旺！</div><div class="t" style="top:2570.34px;font-size:16.6px;line-height:16.6px;color:#404040;letter-spacing:0.35px;left:1079.30px;">2022-01-06</div><div class="t" style="top:2571.29px;font-size:17.3px;line-height:17.3px;color:#404040;left:1260.60px;">非原创</div><div class="t" style="top:2570.34px;font-size:16.6px;line-height:16.6px;color:#404040;letter-spacing:-0.3px;right:245.70px;text-align:right;">0.39</div><div class="t" style="top:2571.29px;font-size:17.3px;line-height:17.3px;color:#3b8ee5;left:1675.40px;">查看</div><div class="b" style="left:373.00px;top:2605.48px;width:1398.00px;height:1.00px;background:#ececec"></div><div class="t" style="top:2787.88px;font-size:16.0px;line-height:16.0px;color:#8c8c8c;left:379.30px;">关于腾讯</div><div class="t" style="top:2787.88px;font-size:16.0px;line-height:16.0px;color:#8c8c8c;left:479.20px;">服务协议</div><div class="t" style="top:2787.88px;font-size:16.0px;line-height:16.0px;color:#8c8c8c;left:578.70px;">运营中心</div><div class="t" style="top:2787.88px;font-size:16.0px;line-height:16.0px;color:#8c8c8c;left:677.80px;">腾讯客服</div><div class="t" style="top:2787.88px;font-size:16.0px;line-height:16.0px;color:#8c8c8c;left:778.00px;">侵权投诉</div><div class="t" style="top:2787.88px;font-size:16.0px;line-height:16.0px;color:#8c8c8c;left:877.30px;">反馈官号weixingongzhong</div><div class="b" style="left:460.60px;top:2789.00px;width:1.10px;height:11.50px;background:#a9a9a9"></div><div class="b" style="left:560.50px;top:2789.00px;width:1.10px;height:11.50px;background:#a9a9a9"></div><div class="b" style="left:660.90px;top:2789.00px;width:1.10px;height:11.50px;background:#a9a9a9"></div><div class="b" style="left:760.50px;top:2789.00px;width:1.10px;height:11.50px;background:#a9a9a9"></div><div class="b" style="left:859.80px;top:2789.00px;width:1.10px;height:11.50px;background:#a9a9a9"></div><div class="b" style="left:379.00px;top:2819.00px;width:1393.00px;height:1.00px;background:#e6e6e6"></div><div class="t" style="top:2836.93px;font-size:15.9px;line-height:15.9px;color:#8c8c8c;letter-spacing:-0.15px;left:379.30px;">Copyright © 2012-2022 Tencent. All Rights Reserved.</div><div class="b" style="left:1802.00px;top:335.70px;width:60.00px;height:131.10px;background:#fff;box-shadow:0 0 12px rgba(0,0,0,0.07)"></div><div class="t" style="top:362.73px;font-size:18.5px;line-height:18.5px;color:#333;left:1525.50px;width:600px;text-align:center;">意</div><div class="t" style="top:385.13px;font-size:18.5px;line-height:18.5px;color:#333;left:1525.50px;width:600px;text-align:center;">见</div><div class="t" style="top:407.53px;font-size:18.5px;line-height:18.5px;color:#333;left:1525.50px;width:600px;text-align:center;">反</div><div class="t" style="top:429.93px;font-size:18.5px;line-height:18.5px;color:#333;left:1525.50px;width:600px;text-align:center;">馈</div><div class="b" style="left:1802.00px;top:477.60px;width:60.00px;height:131.10px;background:#fff;box-shadow:0 0 12px rgba(0,0,0,0.07)"></div><div class="t" style="top:504.73px;font-size:18.5px;line-height:18.5px;color:#333;left:1525.50px;width:600px;text-align:center;">快</div><div class="t" style="top:527.13px;font-size:18.5px;line-height:18.5px;color:#333;left:1525.50px;width:600px;text-align:center;">捷</div><div class="t" style="top:549.53px;font-size:18.5px;line-height:18.5px;color:#333;left:1525.50px;width:600px;text-align:center;">帮</div><div class="t" style="top:571.93px;font-size:18.5px;line-height:18.5px;color:#333;left:1525.50px;width:600px;text-align:center;">助</div><div class="b" style="left:1791.50px;top:2468.00px;width:70.00px;height:177.50px;background:#fff;border-radius:4px;box-shadow:0 0 12px rgba(0,0,0,0.07)"></div><svg class="b" style="left:1805px;top:2489px" width="30" height="30" viewBox="0 0 30 30"><circle cx="15" cy="15" r="12.3" fill="none" stroke="#444" stroke-width="1.6"/><path d="M11.3,11.6 C11.3,8.8 13,7.9 15,7.9 C17.2,7.9 18.7,9.3 18.7,11.2 C18.7,13.7 15,14 15,16.9 L15,17.8" fill="none" stroke="#444" stroke-width="1.6"/><circle cx="15" cy="21.2" r="1.1" fill="#444"/></svg><div class="t" style="top:2532.73px;font-size:18.5px;line-height:18.5px;color:#333;left:1520.00px;width:600px;text-align:center;">遇</div><div class="t" style="top:2557.03px;font-size:18.5px;line-height:18.5px;color:#333;left:1520.00px;width:600px;text-align:center;">到</div><div class="t" style="top:2581.33px;font-size:18.5px;line-height:18.5px;color:#333;left:1520.00px;width:600px;text-align:center;">问</div><div class="t" style="top:2605.63px;font-size:18.5px;line-height:18.5px;color:#333;left:1520.00px;width:600px;text-align:center;">题</div><div class="t" style="top:2872.33px;font-size:38.5px;line-height:38.5px;color:#6f7070;font-weight:900;left:1732.50px;-webkit-text-stroke:0.8px #6f7070;letter-spacing:1.7px;">奕森格</div>
</body></html>
